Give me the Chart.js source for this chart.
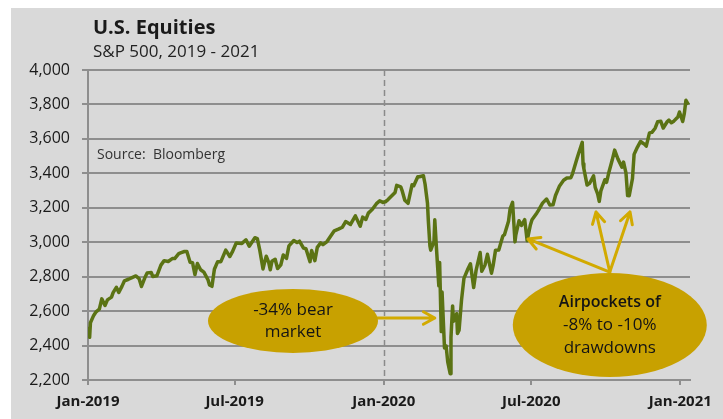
<!DOCTYPE html>
<html lang="en">
<head>
    <meta charset="UTF-8">
    <title>U.S. Equities - S&amp;P 500, 2019 - 2021</title>
    <script src="https://cdn.jsdelivr.net/npm/chart.js"></script>
    <style>
        body {
            margin: 0;
            background-color: #FFFFFF;
        }
        .panel {
            position: absolute;
            left: 11px;
            top: 8px;
            width: 712px;
            height: 411px;
            background-color: #D9D9D9;
        }
    </style>
</head>
<body>

    <div class="panel">
        <canvas id="spxChart" width="712" height="411"></canvas>
    </div>

    <script>
        // S&P 500 closes (one line per month)
        const dates = [
            '2019-01-02', '2019-01-03', '2019-01-04', '2019-01-08', '2019-01-11', '2019-01-15', '2019-01-18', '2019-01-22', '2019-01-25', '2019-01-30',
            '2019-02-01', '2019-02-05', '2019-02-08', '2019-02-12', '2019-02-15', '2019-02-20', '2019-02-25',
            '2019-03-01', '2019-03-05', '2019-03-08', '2019-03-12', '2019-03-15', '2019-03-20', '2019-03-22', '2019-03-27',
            '2019-04-01', '2019-04-05', '2019-04-10', '2019-04-15', '2019-04-18', '2019-04-23', '2019-04-26', '2019-04-30',
            '2019-05-03', '2019-05-07', '2019-05-10', '2019-05-13', '2019-05-16', '2019-05-20', '2019-05-24', '2019-05-29', '2019-05-31',
            '2019-06-03', '2019-06-06', '2019-06-10', '2019-06-14', '2019-06-20', '2019-06-25', '2019-06-28',
            '2019-07-03', '2019-07-10', '2019-07-15', '2019-07-19', '2019-07-26', '2019-07-29',
            '2019-08-01', '2019-08-05', '2019-08-07', '2019-08-09', '2019-08-12', '2019-08-14', '2019-08-16', '2019-08-20', '2019-08-23', '2019-08-27', '2019-08-30',
            '2019-09-03', '2019-09-06', '2019-09-12', '2019-09-16', '2019-09-19', '2019-09-24', '2019-09-27',
            '2019-10-02', '2019-10-04', '2019-10-08', '2019-10-11', '2019-10-15', '2019-10-18', '2019-10-23', '2019-10-28',
            '2019-11-01', '2019-11-06', '2019-11-11', '2019-11-15', '2019-11-21', '2019-11-27',
            '2019-12-03', '2019-12-06', '2019-12-10', '2019-12-13', '2019-12-18', '2019-12-23', '2019-12-27', '2019-12-31',
            '2020-01-03', '2020-01-06', '2020-01-10', '2020-01-15', '2020-01-17', '2020-01-22', '2020-01-24', '2020-01-27', '2020-01-31',
            '2020-02-05', '2020-02-07', '2020-02-12', '2020-02-14', '2020-02-19', '2020-02-21', '2020-02-24', '2020-02-25', '2020-02-27', '2020-02-28',
            '2020-03-03', '2020-03-04', '2020-03-06', '2020-03-09', '2020-03-10', '2020-03-12', '2020-03-13', '2020-03-16', '2020-03-18', '2020-03-20', '2020-03-23', '2020-03-24', '2020-03-26', '2020-03-27', '2020-03-31',
            '2020-04-01', '2020-04-03', '2020-04-06', '2020-04-09', '2020-04-14', '2020-04-17', '2020-04-21', '2020-04-24', '2020-04-29',
            '2020-05-01', '2020-05-05', '2020-05-08', '2020-05-13', '2020-05-15', '2020-05-18', '2020-05-22', '2020-05-27', '2020-05-29',
            '2020-06-03', '2020-06-05', '2020-06-08', '2020-06-11', '2020-06-12', '2020-06-16', '2020-06-19', '2020-06-23', '2020-06-26', '2020-06-30',
            '2020-07-02', '2020-07-08', '2020-07-10', '2020-07-15', '2020-07-20', '2020-07-24', '2020-07-28', '2020-07-31',
            '2020-08-05', '2020-08-10', '2020-08-14', '2020-08-19', '2020-08-21', '2020-08-26', '2020-08-28',
            '2020-09-02', '2020-09-03', '2020-09-04', '2020-09-08', '2020-09-10', '2020-09-11', '2020-09-16', '2020-09-18', '2020-09-21', '2020-09-23', '2020-09-25', '2020-09-30',
            '2020-10-02', '2020-10-05', '2020-10-09', '2020-10-12', '2020-10-16', '2020-10-21', '2020-10-23', '2020-10-26', '2020-10-28', '2020-10-30',
            '2020-11-03', '2020-11-05', '2020-11-09', '2020-11-13', '2020-11-18', '2020-11-20', '2020-11-24', '2020-11-27',
            '2020-12-01', '2020-12-04', '2020-12-08', '2020-12-11', '2020-12-16', '2020-12-18', '2020-12-21', '2020-12-24', '2020-12-29', '2020-12-31',
            '2021-01-04', '2021-01-06', '2021-01-08', '2021-01-11'
        ];
        const closes = [
            2510, 2448, 2532, 2575, 2596, 2611, 2671, 2633, 2665, 2681,
            2707, 2738, 2708, 2745, 2776, 2785, 2796,
            2804, 2789, 2743, 2792, 2822, 2824, 2801, 2805,
            2867, 2893, 2888, 2905, 2905, 2934, 2940, 2946,
            2946, 2884, 2881, 2812, 2876, 2840, 2826, 2783, 2752,
            2744, 2843, 2887, 2887, 2954, 2917, 2942,
            2996, 2993, 3014, 2977, 3026, 3021,
            2954, 2845, 2884, 2919, 2883, 2840, 2889, 2901, 2847, 2869, 2926,
            2906, 2979, 3010, 2998, 3006, 2966, 2962,
            2887, 2952, 2893, 2970, 2996, 2986, 3004, 3039,
            3066, 3076, 3087, 3120, 3103, 3153,
            3093, 3146, 3132, 3169, 3191, 3224, 3240, 3231,
            3235, 3246, 3265, 3289, 3330, 3321, 3295, 3244, 3226,
            3334, 3328, 3380, 3380, 3386, 3338, 3226, 3128, 2979, 2954,
            3003, 3130, 2972, 2747, 2882, 2481, 2711, 2386, 2398, 2305, 2237, 2447, 2630, 2541, 2585,
            2470, 2489, 2664, 2790, 2846, 2875, 2737, 2837, 2940,
            2831, 2868, 2930, 2820, 2864, 2954, 2955, 3036, 3044,
            3122, 3194, 3232, 3002, 3041, 3125, 3098, 3131, 3009, 3100,
            3130, 3170, 3185, 3227, 3251, 3216, 3218, 3271,
            3327, 3360, 3373, 3375, 3397, 3478, 3508,
            3580, 3455, 3427, 3332, 3339, 3341, 3385, 3319, 3281, 3237, 3298, 3363,
            3348, 3408, 3477, 3535, 3484, 3436, 3465, 3401, 3271, 3270,
            3370, 3510, 3551, 3585, 3568, 3558, 3635, 3638,
            3662, 3699, 3702, 3663, 3701, 3709, 3694, 3703, 3727, 3756,
            3701, 3748, 3824, 3799
        ];

        // x axis: days since 1 Jan 2019
        const tickDays = [0, 181, 365, 547, 731];
        const tickLabels = ['Jan-2019', 'Jul-2019', 'Jan-2020', 'Jul-2020', 'Jan-2021'];
        const yTicks = [2200, 2400, 2600, 2800, 3000, 3200, 3400, 3600, 3800, 4000];

        const DAY0 = Date.UTC(2019, 0, 1);
        const toDay = s => (Date.parse(s) - DAY0) / 86400000;
        const points = dates.map((d, i) => ({ x: toDay(d), y: closes[i] }));

        const FONT = '"Open Sans", "Noto Sans", sans-serif';
        const GRID = '#8E8E8E';
        const GOLD = '#C8A100';
        const ARROW = '#D2AA00';

        function arrow(ctx, x1, y1, x2, y2) {
            const a = Math.atan2(y2 - y1, x2 - x1);
            const h = 13;
            ctx.beginPath();
            ctx.moveTo(x1, y1);
            ctx.lineTo(x2, y2);
            ctx.moveTo(x2 - h * Math.cos(a - 0.5), y2 - h * Math.sin(a - 0.5));
            ctx.lineTo(x2, y2);
            ctx.lineTo(x2 - h * Math.cos(a + 0.5), y2 - h * Math.sin(a + 0.5));
            ctx.stroke();
        }

        function bubble(ctx, cx, cy, rx, ry, lines, gap) {
            ctx.fillStyle = GOLD;
            ctx.beginPath();
            ctx.ellipse(cx, cy, rx, ry, 0, 0, Math.PI * 2);
            ctx.fill();
            ctx.fillStyle = '#141414';
            ctx.textAlign = 'center';
            ctx.textBaseline = 'middle';
            const start = cy - gap * (lines.length - 1) / 2;
            lines.forEach((l, i) => {
                ctx.font = l.font;
                ctx.fillText(l.text, cx, start + i * gap);
            });
        }

        const annotations = {
            id: 'annotations',
            beforeDatasetsDraw(chart) {
                const { ctx, chartArea, scales: { x } } = chart;
                const px = Math.round(x.getPixelForValue(365)) + 0.5;
                ctx.save();
                ctx.strokeStyle = '#8A8A8A';
                ctx.lineWidth = 1.5;
                ctx.setLineDash([6, 4]);
                ctx.beginPath();
                ctx.moveTo(px, chartArea.top);
                ctx.lineTo(px, chartArea.bottom);
                ctx.stroke();
                ctx.restore();
            },
            afterDatasetsDraw(chart) {
                const { ctx, scales: { x, y } } = chart;
                ctx.save();

                // titles
                ctx.fillStyle = '#1A1A1A';
                ctx.textAlign = 'left';
                ctx.textBaseline = 'middle';
                ctx.font = 'bold 20px ' + FONT;
                ctx.fillText('U.S. Equities', 82, 20);
                ctx.font = '17px ' + FONT;
                ctx.fillStyle = '#222222';
                ctx.fillText('S&P 500, 2019 - 2021', 82, 44);
                ctx.font = '14px ' + FONT;
                ctx.fillStyle = '#333333';
                ctx.fillText('Source:  Bloomberg', 86, 147);

                // arrows
                ctx.strokeStyle = ARROW;
                ctx.lineWidth = 3;
                ctx.lineCap = 'round';
                ctx.lineJoin = 'round';
                arrow(ctx, x.getPixelForValue(350), y.getPixelForValue(2560),
                    x.getPixelForValue(428), y.getPixelForValue(2560));
                const ox = x.getPixelForValue(644), oy = y.getPixelForValue(2827);
                arrow(ctx, ox, oy, x.getPixelForValue(543), y.getPixelForValue(3019));
                arrow(ctx, ox, oy, x.getPixelForValue(627), y.getPixelForValue(3176));
                arrow(ctx, ox, oy, x.getPixelForValue(669), y.getPixelForValue(3176));

                // call-out bubbles
                bubble(ctx, x.getPixelForValue(253), y.getPixelForValue(2543), 85, 32, [
                    { text: '-34% bear', font: '500 17px ' + FONT },
                    { text: 'market', font: '500 17px ' + FONT }
                ], 22);
                bubble(ctx, x.getPixelForValue(644), y.getPixelForValue(2519), 97, 52, [
                    { text: 'Airpockets of', font: '600 16px ' + FONT },
                    { text: '-8% to -10%', font: '500 17px ' + FONT },
                    { text: 'drawdowns', font: '500 17px ' + FONT }
                ], 23);

                ctx.restore();
            }
        };

        const ctx = document.getElementById('spxChart').getContext('2d');
        const spxChart = new Chart(ctx, {
            type: 'line',
            data: {
                datasets: [{
                    label: 'S&P 500',
                    data: points,
                    borderColor: '#5B7314',
                    borderWidth: 3.5,
                    borderJoinStyle: 'round',
                    pointRadius: 0,
                    tension: 0,
                    fill: false
                }]
            },
            options: {
                responsive: false,
                animation: false,
                layout: { padding: { top: 62, right: 33, left: 0, bottom: 0 } },
                plugins: {
                    legend: { display: false },
                    tooltip: { enabled: false }
                },
                scales: {
                    x: {
                        type: 'linear',
                        min: 0,
                        max: 743,
                        afterBuildTicks: scale => { scale.ticks = tickDays.map(v => ({ value: v })); },
                        afterFit: scale => { scale.height = 39; },
                        ticks: {
                            autoSkip: false,
                            maxRotation: 0,
                            padding: 8,
                            color: '#1A1A1A',
                            font: { family: FONT, size: 15, weight: 'bold' },
                            callback: v => tickLabels[tickDays.indexOf(v)]
                        },
                        grid: { drawOnChartArea: false, drawTicks: true, tickLength: 5, color: GRID, lineWidth: 2 },
                        border: { color: GRID, width: 2 }
                    },
                    y: {
                        min: 2200,
                        max: 4000,
                        afterBuildTicks: scale => { scale.ticks = yTicks.map(v => ({ value: v })); },
                        afterFit: scale => { scale.width = 77; },
                        ticks: {
                            padding: 12,
                            color: '#1A1A1A',
                            font: { family: FONT, size: 16 },
                            callback: v => v.toLocaleString('en-US')
                        },
                        grid: { color: GRID, lineWidth: 2, tickLength: 6 },
                        border: { color: GRID, width: 2 }
                    }
                }
            },
            plugins: [annotations]
        });
    </script>

</body>
</html>
